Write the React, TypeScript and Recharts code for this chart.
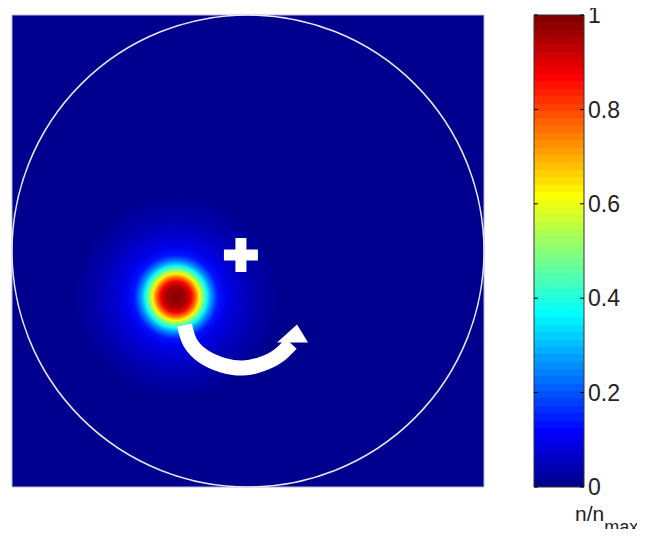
import { ComposedChart, Scatter, XAxis, YAxis, CartesianGrid, ReferenceArea, BarChart, Bar } from 'recharts';

// spot profile: radius from its centre (plot units) and normalised density n/nmax
const blobCentre = [{ x: -0.305, y: -0.195 }];
const blobRadius = [0, 0.045, 0.066, 0.085, 0.099, 0.114, 0.13, 0.15, 0.178, 0.212, 0.263, 0.331, 0.403, 0.43];
const blobValue = [1, 0.96, 0.88, 0.75, 0.63, 0.5, 0.38, 0.25, 0.13, 0.09, 0.06, 0.03, 0.01, 0];

// trap edge (circle) and trap centre marker
const rim = [{ x: 0, y: 0, r: 1 }];
const centreMark = [{ x: -0.03, y: -0.017 }];

// rotation arrow
const arrowPath = [
  { x: -0.269, y: -0.314 },
  { x: -0.246, y: -0.386 },
  { x: -0.191, y: -0.445 },
  { x: -0.11, y: -0.483 },
  { x: -0.021, y: -0.496 },
  { x: 0.059, y: -0.479 },
  { x: 0.127, y: -0.445 },
  { x: 0.183, y: -0.392 },
];
const arrowHead = [{ x: 0.195, y: -0.362 }];

// colour bar
const colorTicks = [0, 0.2, 0.4, 0.6, 0.8, 1];
const colorbarData = [{ name: 'n', top: 1 }];

const PLOT = 472;
const UNIT = PLOT / 2; // px per plot unit, domain is [-1, 1]
const CB_W = 50;
const FONT = '"Liberation Sans", Arial, sans-serif';

// MATLAB jet(64)
const jet = (n: number) => {
  const v = (1 + n * 63) / 64;
  const c = (k: number) => Math.round(255 * Math.max(0, Math.min(1, 1.5 - Math.abs(4 * v - k))));
  return `rgb(${c(3)},${c(2)},${c(1)})`;
};
const BG = jet(0);

const BlobShape = (p: any) => (
  <circle cx={p.cx} cy={p.cy} r={blobRadius[blobRadius.length - 1] * UNIT} fill="url(#blob)" />
);

const RimShape = (p: any) => (
  <circle cx={p.cx} cy={p.cy} r={p.payload.r * UNIT} fill="none" stroke="#e8e8f0" strokeWidth={1.5} />
);

const PlusShape = (p: any) => (
  <g fill="#fff">
    <rect x={p.cx - 17} y={p.cy - 5.5} width={34} height={11} />
    <rect x={p.cx - 5.5} y={p.cy - 17} width={11} height={34} />
  </g>
);

const HeadShape = (p: any) => (
  <polygon
    fill="#fff"
    points={`${p.cx + 3},${p.cy - 12} ${p.cx + 14},${p.cy + 6} ${p.cx - 17},${p.cy + 6}`}
  />
);

const NoDot = () => <g />;

const RightTick = (p: any) => (
  <g>
    <line x1={p.x - 4} x2={p.x} y1={p.y} y2={p.y} stroke="#000" />
    <line x1={p.x - CB_W} x2={p.x - CB_W + 4} y1={p.y} y2={p.y} stroke="#000" />
    <text x={p.x + 4} y={p.y} dy="0.36em" fontSize={23} fontFamily={FONT} fill="#222">
      {String(p.payload.value)}
    </text>
  </g>
);

export default function App() {
  const bands = [];
  for (let i = 0; i < 64; i++) {
    const col = jet(i / 63);
    bands.push(<stop key={`a${i}`} offset={i / 64} stopColor={col} />);
    bands.push(<stop key={`b${i}`} offset={(i + 1) / 64} stopColor={col} />);
  }
  const last = blobRadius[blobRadius.length - 1];

  return (
    <div style={{ position: 'relative', width: 645, height: 537, margin: -8, background: '#fff' }}>
      <div style={{ position: 'absolute', left: 0, top: 0 }}>
        <ComposedChart width={490} height={500} margin={{ top: 15, left: 12, right: 6, bottom: 13 }}>
          <defs>
            <radialGradient id="blob">
              {blobRadius.map((r, i) => (
                <stop key={i} offset={r / last} stopColor={jet(blobValue[i])} />
              ))}
            </radialGradient>
          </defs>
          <CartesianGrid fill={BG} horizontal={false} vertical={false} />
          <XAxis type="number" dataKey="x" domain={[-1, 1]} hide allowDataOverflow />
          <YAxis type="number" dataKey="y" domain={[-1, 1]} hide allowDataOverflow />
          <ReferenceArea x1={-1} x2={1} y1={-1} y2={1} fill="none" stroke="#b8b8d8" strokeWidth={1} />
          <Scatter data={blobCentre} shape={BlobShape} isAnimationActive={false} />
          <Scatter data={rim} shape={RimShape} isAnimationActive={false} />
          <Scatter data={centreMark} shape={PlusShape} isAnimationActive={false} />
          {/* arrow body: white thick curve through the read-off points */}
          <Scatter
            data={arrowPath}
            shape={NoDot}
            line={{ stroke: '#fff', strokeWidth: 15, fill: 'none' }}
            lineJointType="natural"
            isAnimationActive={false}
          />
          <Scatter data={arrowHead} shape={HeadShape} isAnimationActive={false} />
        </ComposedChart>
      </div>

      <div style={{ position: 'absolute', left: 520, top: 0 }}>
        <BarChart
          width={125}
          height={537}
          data={colorbarData}
          margin={{ top: 15, right: 0, bottom: 50, left: 14 }}
          barCategoryGap={0}
        >
          <defs>
            <linearGradient id="jetBar" x1="0" y1="1" x2="0" y2="0">
              {bands}
            </linearGradient>
          </defs>
          <XAxis dataKey="name" hide />
          <YAxis
            orientation="right"
            domain={[0, 1]}
            ticks={colorTicks}
            width={61}
            axisLine={false}
            tickLine={false}
            tickSize={0}
            tickMargin={0}
            tick={RightTick}
          />
          <Bar dataKey="top" fill="url(#jetBar)" stroke="#333" strokeWidth={1} isAnimationActive={false} />
        </BarChart>
      </div>

      <svg style={{ position: 'absolute', left: 570, top: 490, overflow: 'visible' }} width={75} height={47}>
        <text x={5} y={31} fontSize={21} fontFamily={FONT} fill="#222">
          n/n
          <tspan fontSize={18} dy={12}>max</tspan>
        </text>
      </svg>
    </div>
  );
}
